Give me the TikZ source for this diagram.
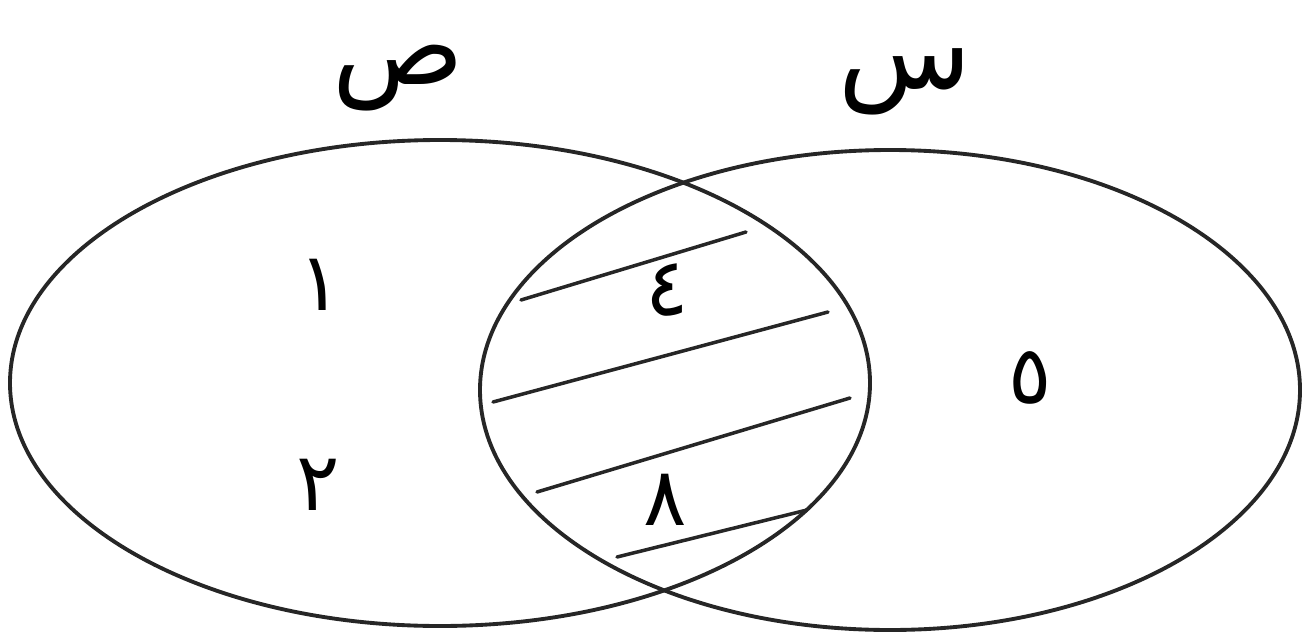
\documentclass[tikz,border=0pt]{standalone}
\usepackage{fontspec}
\usepackage{tikz}
\newfontfamily\arabicfont[Script=Arabic]{DejaVu Sans}
\TeXXeTstate=1
\tikzset{
  setline/.style={draw=black!85, line width=2.2pt},
  hatch/.style={draw=black!85, line width=2pt, line cap=round},
  setname/.style={font=\arabicfont\fontsize{62}{66}\selectfont, inner sep=0pt},
  elem/.style={font=\arabicfont\fontsize{46}{50}\selectfont, inner sep=0pt},
}
\begin{document}
\begin{tikzpicture}[x=0.02cm, y=-0.02cm]
  \useasboundingbox (0,0) rectangle (1305,632);
  % the two sets
  \draw[setline] (440,383) ellipse [x radius=430, y radius=243];
  \draw[setline] (890,390) ellipse [x radius=410, y radius=240];
  % hatching of the common part
  \draw[hatch] (521,300) -- (746,232);
  \draw[hatch] (493,402) -- (828,312);
  \draw[hatch] (537,492) -- (850,398);
  \draw[hatch] (617,557) -- (807,510);
  % names of the sets
  \node[setname] (nameY) at (398,78) {\beginR ص\endR};
  \node[setname] (nameX) at (905,82) {\beginR س\endR};
  % elements
  \node[elem] (e1) at (320,285) {\beginR ١\endR};
  \node[elem] (e2) at (318,485) {\beginR ٢\endR};
  \node[elem] (e4) at (667,290) {\beginR ٤\endR};
  \node[elem] (e8) at (665,500) {\beginR ٨\endR};
  \node[elem] (e5) at (1030,378) {\beginR ٥\endR};
\end{tikzpicture}
\end{document}
